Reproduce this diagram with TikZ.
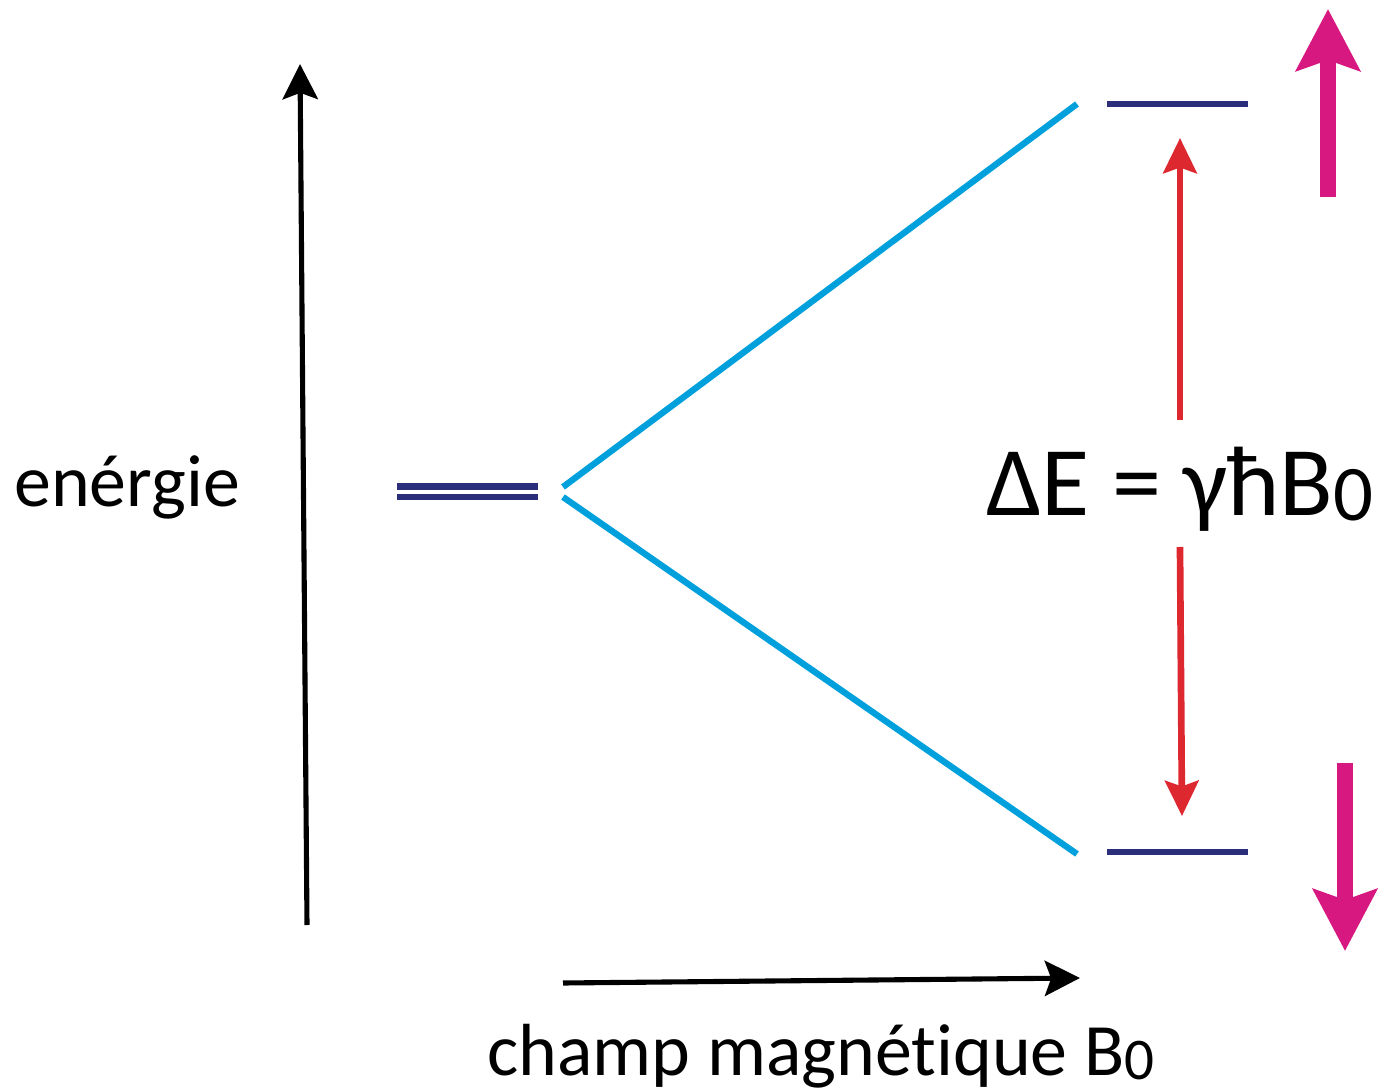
\documentclass[tikz,border=0pt]{standalone}
\usepackage{fontspec}
\setmainfont{Carlito}[Ligatures=NoCommon]
\usetikzlibrary{arrows.meta,positioning}
\definecolor{levelnavy}{RGB}{43,46,122}
\definecolor{splitcyan}{RGB}{0,160,220}
\definecolor{gapred}{RGB}{221,40,48}
\definecolor{spinmag}{RGB}{214,24,128}
\newcommand{\subzero}{\raisebox{-0.12ex}{\scalebox{0.8}{0}}}

\begin{document}
\begin{tikzpicture}[
  x=0.01cm,y=-0.01cm,
  lbl/.style={inner sep=0pt,anchor=base,font=\fontsize{21}{26}\selectfont},
  axis/.style={-{Stealth[length=10pt,width=10pt,inset=1.8pt]},line width=1.45pt,black},
  level/.style={line width=1.95pt,levelnavy},
  split/.style={line width=1.8pt,splitcyan},
  gap/.style={-{Stealth[length=10pt,width=9.5pt,inset=1.6pt]},line width=1.9pt,gapred},
  spin/.style={-{Stealth[length=17.5pt,width=18pt,inset=3pt]},line width=4.6pt,spinmag}
]
  \useasboundingbox (0,0) rectangle (1378,1091);
  % axes
  \coordinate (ebot) at (307,925);
  \coordinate (etop) at (300,64);
  \coordinate (bleft) at (563,983);
  \coordinate (bright) at (1080,978);
  \draw[axis] (ebot) -- (etop);
  \draw[axis] (bleft) -- (bright);
  \node[lbl] (elbl) at (127,507) {enérgie};
  \node[lbl] (blbl) at (821,1075) {champ magnétique B\subzero};
  % levels
  \coordinate (d1a) at (397,486.5);
  \coordinate (d1b) at (538,486.5);
  \coordinate (d2a) at (397,497);
  \coordinate (d2b) at (538,497);
  \draw[level] (d1a) -- (d1b);
  \draw[level] (d2a) -- (d2b);
  \coordinate (ua) at (1107,104);
  \coordinate (ub) at (1248,104);
  \coordinate (la) at (1107,852);
  \coordinate (lb) at (1248,852);
  \draw[level] (ua) -- (ub);
  \draw[level] (la) -- (lb);
  % splitting
  \coordinate (s1) at (563,487);
  \coordinate (s2) at (563,497);
  \coordinate (up) at (1077,104);
  \coordinate (dn) at (1077,854);
  \draw[split] (s1) -- (up);
  \draw[split] (s2) -- (dn);
  % energy gap
  \node[lbl,font=\fontsize{28}{34}\selectfont] (gaplbl) at (1180,515) {ΔE = γħB\subzero};
  \coordinate (g1) at (1180,420);
  \coordinate (g1t) at (1180,138);
  \coordinate (g2) at (1180,547);
  \coordinate (g2t) at (1182,816);
  \draw[gap] (g1) -- (g1t);
  \draw[gap] (g2) -- (g2t);
  % spins
  \coordinate (m1) at (1328,197);
  \coordinate (m1t) at (1328,9);
  \coordinate (m2) at (1345,763);
  \coordinate (m2t) at (1345,951);
  \draw[spin] (m1) -- (m1t);
  \draw[spin] (m2) -- (m2t);
\end{tikzpicture}
\end{document}
